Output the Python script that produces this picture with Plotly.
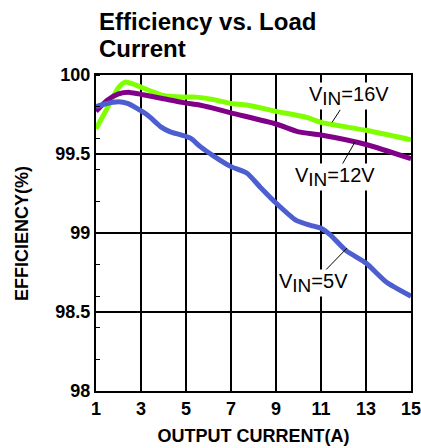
import plotly.graph_objects as go

# efficiency curves
x_16v = [1, 1.5, 2, 2.3, 2.8, 3.4, 4, 4.8, 5.4, 6.2, 7, 7.7, 9, 10.4, 11, 13, 15]
eff_16v = [99.66, 99.79, 99.92, 99.955, 99.935, 99.90, 99.87, 99.86, 99.86, 99.845,
           99.82, 99.81, 99.77, 99.73, 99.70, 99.65, 99.59]

x_12v = [1, 1.5, 2, 2.5, 3.1, 4, 4.9, 5.6, 6.2, 7, 9, 10, 11, 13, 15]
eff_12v = [99.77, 99.84, 99.88, 99.89, 99.875, 99.85, 99.825, 99.81, 99.79, 99.76,
           99.69, 99.64, 99.62, 99.56, 99.47]

x_5v = [1, 1.5, 2, 2.4, 2.8, 3.3, 3.9, 4.3, 4.8, 5.2, 5.65, 6.2, 7, 7.7, 8.3, 9,
        9.9, 10.5, 11, 11.4, 12.1, 13, 13.9, 15]
eff_5v = [99.80, 99.82, 99.83, 99.82, 99.79, 99.745, 99.67, 99.64, 99.62, 99.60,
          99.545, 99.49, 99.42, 99.38, 99.29, 99.19, 99.08, 99.05, 99.03, 98.99,
          98.89, 98.81, 98.69, 98.60]

x_ticks = [1, 3, 5, 7, 9, 11, 13, 15]
y_ticks = [98, 98.5, 99, 99.5, 100]
y_labels = ['98', '98.5', '99', '99.5', '100']

FONT = 'Liberation Sans, Arial, sans-serif'

fig = go.Figure()
fig.add_trace(go.Scatter(x=x_16v, y=eff_16v, mode='lines', name='16V',
                         line=dict(color='#80ff00', width=5, shape='spline', smoothing=0.6)))
fig.add_trace(go.Scatter(x=x_12v, y=eff_12v, mode='lines', name='12V',
                         line=dict(color='#800088', width=5, shape='spline', smoothing=0.6)))
fig.add_trace(go.Scatter(x=x_5v, y=eff_5v, mode='lines', name='5V',
                         line=dict(color='#4d5fd0', width=5, shape='spline', smoothing=0.6)))


def vin_label(volts, x, y, ax, ay):
    # label with a thin leader line pointing at the curve
    fig.add_annotation(
        x=x, y=y, ax=ax, ay=ay,
        text="V<sub><span style='font-size:19px'>IN</span></sub>=" + volts,
        showarrow=True, arrowhead=0, arrowwidth=1, arrowcolor='black',
        font=dict(family=FONT, size=20, color='black'),
        bgcolor='white', borderpad=0,
    )


vin_label('16V', 11.49, 99.70, 17, -26)
vin_label('12V', 12.51, 99.576, -20, 35)
vin_label('5V', 12.16, 98.905, -34, 35)

fig.update_layout(
    width=421, height=448,
    margin=dict(l=96, r=10, t=75, b=57),
    paper_bgcolor='white', plot_bgcolor='white',
    showlegend=False,
    font=dict(family=FONT, color='black'),
    xaxis=dict(
        range=[1, 15], tickvals=x_ticks, automargin=False, ticklabeloverflow='allow',
        showgrid=True, gridcolor='black', gridwidth=1.5,
        showline=True, linecolor='black', linewidth=2, mirror=True,
        zeroline=False, ticks='',
        tickfont=dict(size=18, weight='bold'),
        title=dict(text='OUTPUT CURRENT(A)', font=dict(size=18, weight='bold'), standoff=12),
    ),
    yaxis=dict(
        range=[98, 100], tickvals=y_ticks, ticktext=y_labels, automargin=False,
        showgrid=True, gridcolor='black', gridwidth=1.5,
        showline=True, linecolor='black', linewidth=2, mirror=True,
        zeroline=False, ticks='',
        tickfont=dict(size=18, weight='bold'),
        minor=dict(tick0=98, dtick=0.2, ticks='inside', ticklen=4, tickcolor='black',
                   tickwidth=1, showgrid=False),
    ),
)

title_font = dict(size=24, weight='bold', family=FONT, color='black')
fig.add_annotation(xref='paper', yref='paper', x=0.003, y=1.218, xanchor='left', yanchor='top',
                   text='Efficiency vs. Load', showarrow=False, font=title_font)
fig.add_annotation(xref='paper', yref='paper', x=0.003, y=1.133, xanchor='left', yanchor='top',
                   text='Current', showarrow=False, font=title_font)

fig.add_annotation(
    xref='paper', yref='paper', x=-0.235, y=0.5, xanchor='center', yanchor='middle',
    text='EFFICIENCY(%)', textangle=-90, showarrow=False,
    font=dict(size=18, weight='bold', family=FONT, color='black'),
)

# drop the default 8px body margin so the 421x448 figure fits the window exactly
fig.write_html('out.html', config={'displayModeBar': False},
               post_script="document.body.style.margin='0';document.body.style.overflow='hidden';")
